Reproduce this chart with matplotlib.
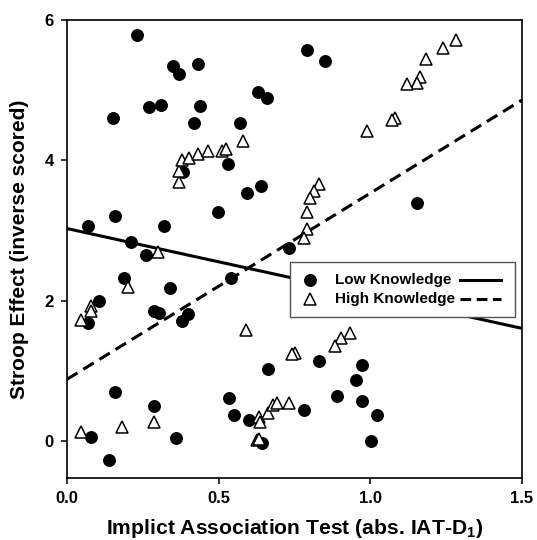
import matplotlib
matplotlib.use('Agg')
import matplotlib.pyplot as plt
from matplotlib.patches import Rectangle

plt.rcParams['font.family'] = ['Liberation Sans', 'DejaVu Sans']
plt.rcParams['font.weight'] = 'bold'
plt.rcParams['mathtext.fontset'] = 'custom'
plt.rcParams['mathtext.rm'] = 'Liberation Sans:bold'
plt.rcParams['mathtext.bf'] = 'Liberation Sans:bold'

# low knowledge participants (filled circles)
low_x = [0.230, 0.348, 0.370, 0.431, 0.151, 0.269, 0.310, 0.439, 0.420, 0.570,
         0.631, 0.658, 0.383, 0.532, 0.592, 0.640, 0.499, 0.068, 0.158, 0.318,
         0.211, 0.259, 0.790, 0.851, 1.153, 0.732, 0.188, 0.340, 0.106, 0.288,
         0.302, 0.400, 0.378, 0.068, 0.541, 0.158, 0.288, 0.078, 0.359, 0.138,
         0.534, 0.551, 0.600, 0.662, 0.644, 0.831, 0.972, 0.952, 0.889, 0.972,
         0.781, 1.021, 1.001]
low_y = [5.78, 5.35, 5.23, 5.38, 4.60, 4.76, 4.79, 4.77, 4.54, 4.54,
         4.98, 4.89, 3.83, 3.95, 3.54, 3.63, 3.27, 3.07, 3.21, 3.07,
         2.84, 2.65, 5.57, 5.42, 3.40, 2.75, 2.32, 2.19, 2.00, 1.85,
         1.83, 1.82, 1.72, 1.68, 2.32, 0.70, 0.51, 0.06, 0.05, -0.26,
         0.62, 0.38, 0.31, 1.03, -0.03, 1.14, 1.09, 0.87, 0.65, 0.57,
         0.45, 0.37, 0.00]

# high knowledge participants (open triangles)
high_x = [0.370, 0.369, 0.378, 0.403, 0.433, 0.463, 0.510, 0.524, 0.581, 0.301,
          1.283, 1.241, 1.182, 1.164, 1.153, 1.120, 1.081, 1.073, 0.990, 0.832,
          0.815, 0.801, 0.790, 0.790, 0.781, 0.200, 0.046, 0.079, 0.079, 0.590,
          0.046, 0.180, 0.288, 0.634, 0.636, 0.625, 0.634, 0.664, 0.680, 0.691,
          0.731, 0.933, 0.903, 0.884, 0.752, 0.741]
high_y = [3.70, 3.85, 4.00, 4.03, 4.09, 4.13, 4.13, 4.16, 4.28, 2.70,
          5.71, 5.60, 5.45, 5.19, 5.10, 5.09, 4.60, 4.58, 4.42, 3.66,
          3.56, 3.46, 3.26, 3.02, 2.89, 2.20, 1.73, 1.93, 1.86, 1.58,
          0.13, 0.21, 0.27, 0.34, 0.27, 0.02, 0.03, 0.40, 0.52, 0.54,
          0.54, 1.55, 1.47, 1.36, 1.26, 1.25]

# fitted regression lines (intercept, slope)
low_fit = (3.03, -0.947)
high_fit = (0.885, 2.65)

fig = plt.figure(figsize=(5.37, 5.40), dpi=100)
ax = fig.add_axes([0.125, 0.115, 0.847, 0.848])

ax.plot(low_x, low_y, 'o', color='black', markersize=8.3, zorder=3)
ax.plot(high_x, high_y, '^', markerfacecolor='white', markeredgecolor='black',
        markersize=8.5, markeredgewidth=1.1, zorder=3)

xs = [0.0, 1.5]
ax.plot(xs, [low_fit[0] + low_fit[1] * v for v in xs], '-', color='black', lw=2.2, zorder=2)
ax.plot(xs, [high_fit[0] + high_fit[1] * v for v in xs], '--', color='black', lw=2.2,
        dashes=(4, 2.2), zorder=2)

ax.set_xlim(0, 1.5)
ax.set_ylim(-0.52, 6)
ax.set_xticks([0.0, 0.5, 1.0, 1.5])
ax.set_xticklabels(['0.0', '0.5', '1.0', '1.5'])
ax.set_yticks([0, 2, 4, 6])
ax.tick_params(direction='out', length=4.5, width=1.1, labelsize=12, pad=5)
for s in ax.spines.values():
    s.set_linewidth(1.2)

ax.set_xlabel(r'Implict Association Test (abs. IAT-D$_1$)', fontsize=15.2,
              fontweight='bold', labelpad=8)
ax.set_ylabel('Stroop Effect (inverse scored)', fontsize=15, fontweight='bold',
              labelpad=11)

# legend: marker, label, then line sample
ax.add_patch(Rectangle((0.490, 0.352), 0.495, 0.120, transform=ax.transAxes,
                       facecolor='white', edgecolor='#555555', lw=1.0, zorder=4))
ax.plot([0.533], [0.432], 'o', color='black', markersize=8.3,
        transform=ax.transAxes, zorder=5)
ax.plot([0.533], [0.390], '^', markerfacecolor='white', markeredgecolor='black',
        markersize=8.5, markeredgewidth=1.1, transform=ax.transAxes, zorder=5)
ax.text(0.589, 0.432, 'Low Knowledge', transform=ax.transAxes, fontsize=11,
        fontweight='bold', va='center', zorder=5)
ax.text(0.589, 0.390, 'High Knowledge', transform=ax.transAxes, fontsize=11,
        fontweight='bold', va='center', zorder=5)
ax.plot([0.864, 0.955], [0.432, 0.432], '-', color='black', lw=2.2,
        transform=ax.transAxes, zorder=5)
ax.plot([0.864, 0.955], [0.390, 0.390], '--', color='black', lw=2.2,
        dashes=(3.5, 1.8), transform=ax.transAxes, zorder=5)

fig.savefig('out.png', dpi=100)
